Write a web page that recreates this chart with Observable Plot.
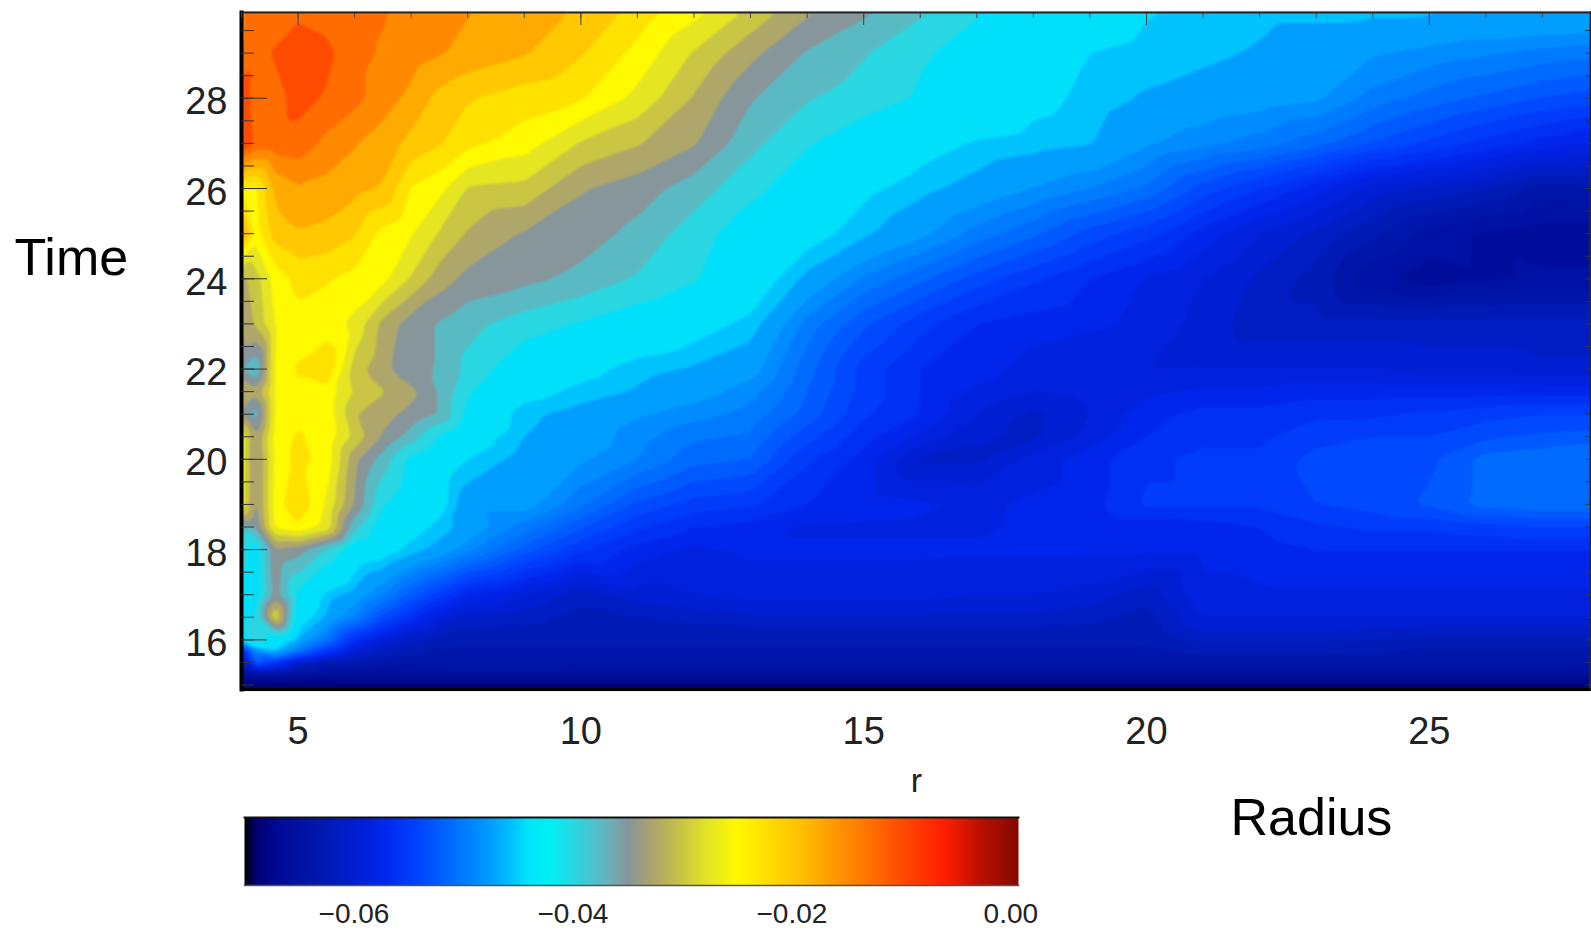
<!DOCTYPE html>
<html><head><meta charset="utf-8">
<style>html,body{margin:0;padding:0;background:#fff}svg{display:block}</style>
<script src="https://cdn.jsdelivr.net/npm/d3@7"></script>
<script src="https://cdn.jsdelivr.net/npm/@observablehq/plot@0.6"></script>
</head><body><div id="chart"></div><div id="bar"></div>
<script>
// radius columns and time rows (values in units of 0.001)
const radii = [4,4.25,4.6,5,5.5,6,6.5,7,7.5,8,9,10,11,12,13,14,15,16,17,18,19,20,21,22,23,24,25,26,27,28];
const times = [30,29,28,27,26,25,24,23,22,21.5,21,20.5,20,19,18.5,18,17,16.5,16,15.75,15.5,15.2,14.9];
const t30 = [-14,-13,-12.5,-12,-12.5,-13,-13.5,-14.5,-15.5,-16,-17.5,-19,-22,-25,-29,-33,-35.5,-38,-41,-43.5,-44,-45.3,-46,-46.3,-46.3,-46.3,-46.3,-46.3,-46.3,-46.3];
const t29 = [-14,-12,-11,-9.5,-10.5,-13,-14,-15,-16,-17,-18.5,-21,-24.5,-29,-33,-36.5,-38.5,-41,-42,-43.5,-45.5,-46,-46.4,-47,-47.8,-48.6,-49.2,-49.8,-50.5,-51];
const t28 = [-9,-13,-12,-10.5,-11.5,-13,-15,-17,-19.5,-21,-22.5,-23.5,-27,-31.5,-36,-38.5,-40,-41.5,-43,-44.8,-46,-47,-47.6,-48,-48.5,-50.5,-51.8,-52.8,-53.8,-54.5];
const t27 = [-8,-12,-12,-12,-14.5,-16,-17.5,-19.5,-21,-23,-25,-29,-31,-33.5,-38,-41,-43,-44.6,-45.7,-46.2,-46.7,-48.5,-49.6,-50.5,-52,-53.8,-55.3,-56.7,-58,-59];
const t26 = [-24,-24.5,-18,-16.5,-17,-18,-19,-24,-25.5,-29,-29.5,-33.5,-35,-37.5,-40.5,-43,-45,-46.3,-47.5,-48.8,-50,-51.5,-54.3,-56.2,-58.2,-60.5,-61.5,-62.5,-64.3,-64];
const t25 = [-16,-25,-20,-19,-19.5,-21,-24.5,-26,-29,-31.5,-34,-35,-37,-40,-43,-44.5,-46.5,-48.3,-50.5,-52.2,-54.3,-55.8,-58,-60,-61.5,-63.5,-65.5,-66.5,-67,-67];
const t24 = [-32,-30,-25,-23,-23.5,-24.5,-25.5,-29,-32.5,-34.5,-35.5,-37,-39,-41,-43.8,-47.3,-50.2,-52.2,-54.3,-56,-57.5,-58.8,-60,-61.5,-63,-66,-67,-66.5,-66,-66];
const t23 = [-33,-31,-26,-24.5,-25,-27,-32,-35,-36.5,-38,-40,-41.5,-43,-44.5,-46,-50.5,-53.5,-55.8,-57.5,-58,-58.5,-59,-60.5,-62,-62,-62,-62,-62,-62,-62];
const t22 = [-36,-39,-25.5,-23.5,-21.5,-30,-33,-35.5,-36.5,-39.5,-43.5,-44.7,-46.3,-47,-48,-52,-55.5,-57.5,-58,-59.5,-60,-60,-60,-60,-60,-60,-60.5,-60.5,-61,-61];
const t215 = [-30,-33,-25.5,-24,-24.5,-29,-31,-33,-36.5,-41,-44.5,-46,-47,-48,-49.5,-52.5,-55.5,-57.5,-59,-60,-59.5,-59,-58.5,-58.5,-58,-58,-58,-58,-58,-58];
const t21 = [-34,-38,-25.5,-24,-24.5,-31,-33,-34.5,-36.5,-42,-46.5,-47.5,-48.5,-49.5,-50.5,-53,-56,-57.5,-60,-61.5,-60,-58,-57,-57,-56.5,-56.5,-56,-55.5,-55,-55];
const t205 = [-26,-34,-25,-23.5,-24.5,-29.5,-34,-37.5,-41.5,-44,-46.8,-47.5,-49.5,-51,-51.5,-54.5,-57,-59,-61,-61.5,-59.5,-57.5,-56.5,-56.5,-55.5,-55,-55,-54,-53.5,-53];
const t20 = [-26,-35,-25.5,-23,-24.5,-33,-37.5,-42,-44,-45.5,-47.5,-48.5,-50,-52,-52.5,-56,-58,-61.5,-61.5,-59.5,-58,-56.5,-56,-56,-54.5,-54,-54,-52,-51.5,-51.5];
const t19 = [-26,-35,-25,-21.5,-26.5,-34,-41,-43.5,-44.5,-48,-48,-51,-54,-55.5,-56,-57.5,-58,-58.5,-59,-58.5,-58,-56,-56,-56,-55,-54.5,-53.5,-52,-51.5,-51.5];
const t185 = [-38,-36,-25.5,-24,-27,-38,-43.5,-44.5,-46,-47.5,-50.5,-53.5,-56,-57.5,-58,-59,-59,-59,-59,-58.5,-58.5,-58.5,-58,-57.5,-56.5,-56,-56,-55.5,-55,-55];
const t18 = [-40,-43,-34,-35,-39,-43.5,-44.3,-46,-47.5,-49.5,-53,-56,-58,-59,-58.5,-58.5,-58.5,-58.5,-58.5,-58.5,-58.5,-58.5,-58.5,-58,-57.5,-57.5,-57.5,-57.5,-57.5,-57.5];
const t17 = [-42,-43,-35,-42,-46,-47.5,-50,-53,-55.5,-58,-60,-62,-60.5,-60,-59.5,-59.5,-59.5,-59.5,-60,-60,-60.5,-62,-59,-59,-59,-59,-59,-59,-59,-59];
const t165 = [-42,-41,-28,-44,-47,-50,-54,-57,-60,-61.5,-62,-63,-62.5,-62,-61.5,-61.5,-61.5,-61.5,-61.5,-61.5,-62,-63,-60,-60,-60,-60,-60,-60,-60,-60];
const t16 = [-44,-38,-43,-47,-51,-57,-60,-62,-63,-63.5,-63.5,-63.5,-63.5,-63.5,-63.5,-63.5,-63.5,-63.5,-63.5,-63.5,-63.5,-63.5,-62,-62,-62,-62.5,-63,-63,-63,-63];
const t1575 = [-60,-50,-46,-50.5,-56,-60.5,-62.5,-63.5,-64,-64,-64,-64,-64,-64,-64,-64,-64,-64,-64,-64,-64,-64,-63.5,-63.5,-63.5,-63.5,-64,-64,-64,-64];
const t155 = [-62,-52,-56,-61,-63.5,-64,-64.5,-64.5,-64.5,-64,-64,-64.5,-64.5,-64.5,-64.5,-64.5,-64.5,-64.5,-64.5,-64.5,-64.5,-64.5,-64.5,-64.5,-64.5,-64.5,-64.5,-64.5,-64.5,-64.5];
const t152 = [-67,-67,-67,-67,-67,-67,-67,-67,-67,-67,-67,-67,-67,-67,-67,-67,-67,-67,-67,-67,-67,-67,-67,-67,-67,-67,-67,-67,-67,-67];
const t149 = [-70,-70,-70,-70,-70,-70,-70,-70,-70,-70,-70,-70,-70,-70,-70,-70,-70,-70,-70,-70,-70,-70,-70,-70,-70,-70,-70,-70,-70,-70];
const rows = [t30,t29,t28,t27,t26,t25,t24,t23,t22,t215,t21,t205,t20,t19,t185,t18,t17,t165,t16,t1575,t155,t152,t149];

// colour table of the bar
const stops = [-70,-69,-67,-63,-60,-57,-54,-51,-48,-46,-44,-42,-40,-37,-35,-33,-31,-28,-25,-22,-19,-16,-13,-10,-6,-3,0.7];
const hues = ["#000000","#00006e","#000a96","#0019af","#001ed2","#0028f0","#0046ff","#006eff","#0096ff","#00b9ff","#00e6fa","#00f0f5","#28d7e1","#64b4be","#87969b","#aaa073","#beb950","#e1e128","#fffa00","#ffdc00","#ffbe00","#ff9600","#ff7300","#ff4b00","#ff1e00","#be0f00","#820a00"];

const xMajor = [5,10,15,20,25];
const xMinor = d3.range(4,28);
const yMajor = [16,18,20,22,24,26,28];
const yMinor = d3.range(15,30,0.5);
const barTicks = [-0.06,-0.04,-0.02,0];
const levels = [...d3.range(-71.25,-48.75,1.25),-48.75,-46.8,-45.5,...d3.range(-41.25,0,2.5)].map(d=>d/1000);

const points = rows.flatMap((row,i)=>row.map((v,j)=>({r:radii[j],t:times[i],v:v/1000})));
const font = "'Liberation Sans',Arial,sans-serif";
const shift = 0.00125;

const main = Plot.plot({
  width:1591,height:760,marginLeft:241,marginRight:1,marginTop:12,marginBottom:71,
  style:{fontFamily:font,background:"#fff",color:"#222"},
  x:{domain:[4,27.85],label:null},
  y:{domain:[14.9,29.9],label:null},
  color:{type:"linear",domain:stops.map(d=>d/1000-shift),range:hues,interpolate:"rgb",clamp:true},
  marks:[
    Plot.contour(points,{x:"r",y:"t",value:"v",fill:"value",interpolate:"barycentric",thresholds:levels,pixelSize:2,blur:1,stroke:"none",imageFilter:"blur(0.8px)"}),
    Plot.frame({anchor:"left",stroke:"#000",strokeWidth:4}),
    Plot.frame({anchor:"top",stroke:"#222",strokeWidth:2}),
    Plot.frame({anchor:"bottom",stroke:"#000",strokeWidth:3}),
    Plot.frame({anchor:"right",stroke:"#222",strokeWidth:2}),
    Plot.axisY({anchor:"left",ticks:yMajor,tickSize:0,tickPadding:14,fontSize:38,dy:4,tickFormat:d=>d,fill:"#222"}),
    Plot.axisY({anchor:"left",ticks:yMajor,tickSize:-26,text:null,stroke:"#333"}),
    Plot.axisY({anchor:"left",ticks:yMinor,tickSize:-13,text:null,stroke:"#333"}),
    Plot.axisY({anchor:"right",ticks:yMinor,tickSize:-6,text:null,stroke:"#333"}),
    Plot.axisX({anchor:"bottom",ticks:xMajor,tickSize:0,tickPadding:28,fontSize:38,tickFormat:d=>d,fill:"#222"}),
    Plot.axisX({anchor:"top",ticks:xMajor,tickSize:-12,text:null,stroke:"#444"}),
    Plot.axisX({anchor:"top",ticks:xMinor,tickSize:-5,text:null,stroke:"#444"}),
    Plot.text(["Time"],{frameAnchor:"top-left",dx:-227,dy:246,textAnchor:"start",lineAnchor:"middle",fontSize:52,fill:"#000"})
  ]
});
document.getElementById("chart").append(main);

const bar = Plot.plot({
  width:1591,height:171,marginLeft:244,marginRight:573,marginTop:57,marginBottom:46,
  style:{fontFamily:font,background:"#fff",color:"#222"},
  x:{domain:[-0.07,0.0007],label:null},
  y:{domain:[0,1],axis:null},
  color:{type:"linear",domain:stops.map(d=>d/1000),range:hues,interpolate:"rgb",clamp:true},
  marks:[
    Plot.raster({x1:-0.07,x2:0.0007,y1:0,y2:1,fill:(x,y)=>x,pixelSize:1,width:774,height:1}),
    Plot.frame({anchor:"top",stroke:"#111",strokeWidth:2}),
    Plot.frame({anchor:"bottom",stroke:"#555",strokeWidth:1.5}),
    Plot.axisX({anchor:"bottom",ticks:barTicks,tickSize:0,tickPadding:18,fontSize:28,tickFormat:d=>d===0?"0.00":"\u2212"+Math.abs(d).toFixed(2),fill:"#222"}),
    Plot.text(["r"],{frameAnchor:"top-left",dx:672,dy:-36,textAnchor:"middle",lineAnchor:"middle",fontSize:34,fill:"#222"}),
    Plot.text(["Radius"],{frameAnchor:"top-left",dx:986,dy:1,textAnchor:"start",lineAnchor:"middle",fontSize:52,fill:"#000"})
  ]
});
document.getElementById("bar").append(bar);
</script></body></html>
